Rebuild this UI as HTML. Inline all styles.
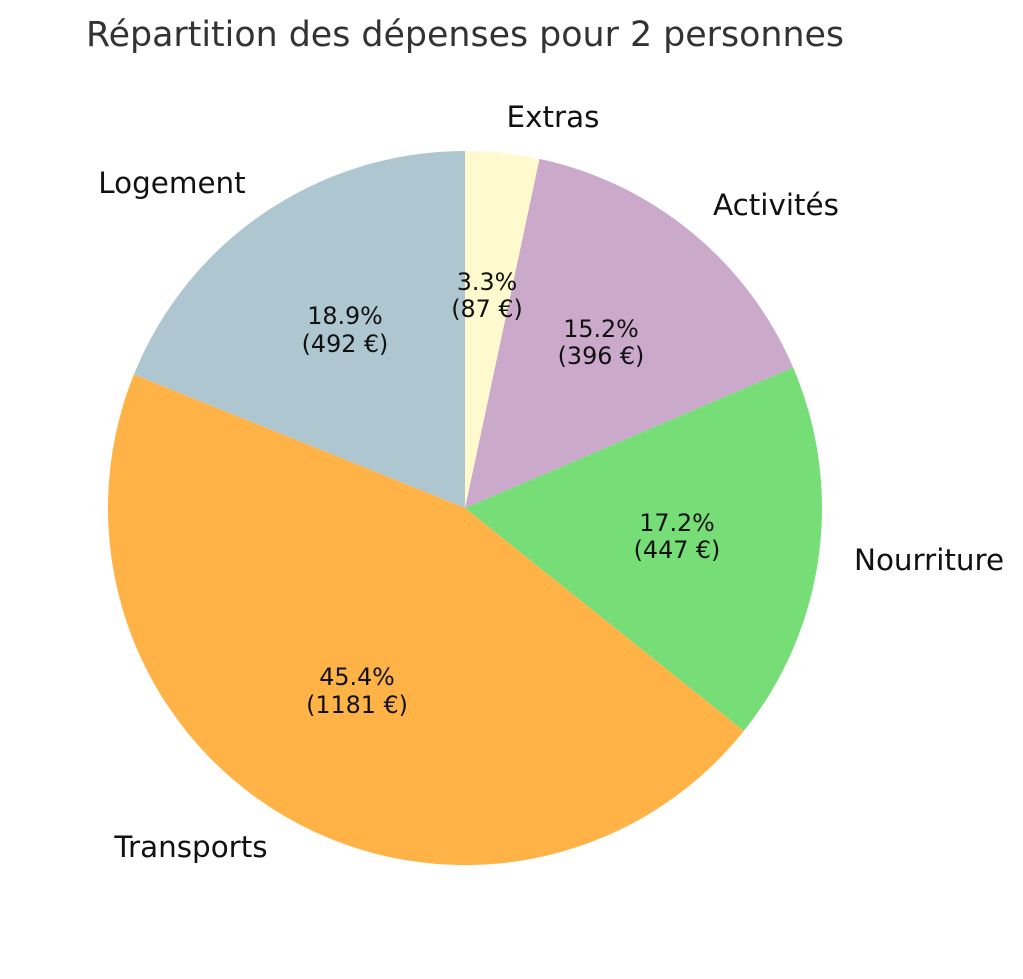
<!DOCTYPE html>
<html><head><meta charset="utf-8"><style>html,body{margin:0;padding:0;background:#fff}</style></head>
<body>
<svg width="1023" height="974" viewBox="0 0 1023 974" xmlns="http://www.w3.org/2000/svg" font-family="DejaVu Sans, Liberation Sans, sans-serif">
<rect width="1023" height="974" fill="#fff"/>
<text x="465" y="46" text-anchor="middle" font-size="34.8" fill="#333">Répartition des dépenses pour 2 personnes</text>
<g>
<path d="M465,508 L465,151 A357,357 0 0 0 133.9,374.5 Z" fill="#aec6cf"/>
<path d="M465,508 L133.9,374.5 A357,357 0 0 0 743.9,730.9 Z" fill="#ffb347"/>
<path d="M465,508 L743.9,730.9 A357,357 0 0 0 793.1,367.4 Z" fill="#77dd77"/>
<path d="M465,508 L793.1,367.4 A357,357 0 0 0 539.4,158.9 Z" fill="#cba9cb"/>
<path d="M465,508 L539.4,158.9 A357,357 0 0 0 465,151 Z" fill="#fffacd"/>
</g>
<g font-size="29.4" fill="#111">
<text x="172" y="193" text-anchor="middle">Logement</text>
<text x="191" y="857" text-anchor="middle">Transports</text>
<text x="929" y="570" text-anchor="middle">Nourriture</text>
<text x="776" y="215" text-anchor="middle">Activités</text>
<text x="553" y="127" text-anchor="middle">Extras</text>
</g>
<g font-size="23.8" fill="#111" text-anchor="middle">
<text x="345" y="324">18.9%</text><text x="345" y="352">(492 €)</text>
<text x="357" y="685">45.4%</text><text x="357" y="713">(1181 €)</text>
<text x="677" y="531">17.2%</text><text x="677" y="558">(447 €)</text>
<text x="601" y="337">15.2%</text><text x="601" y="364">(396 €)</text>
<text x="487" y="290">3.3%</text><text x="487" y="317">(87 €)</text>
</g>
</svg>
</body></html>
